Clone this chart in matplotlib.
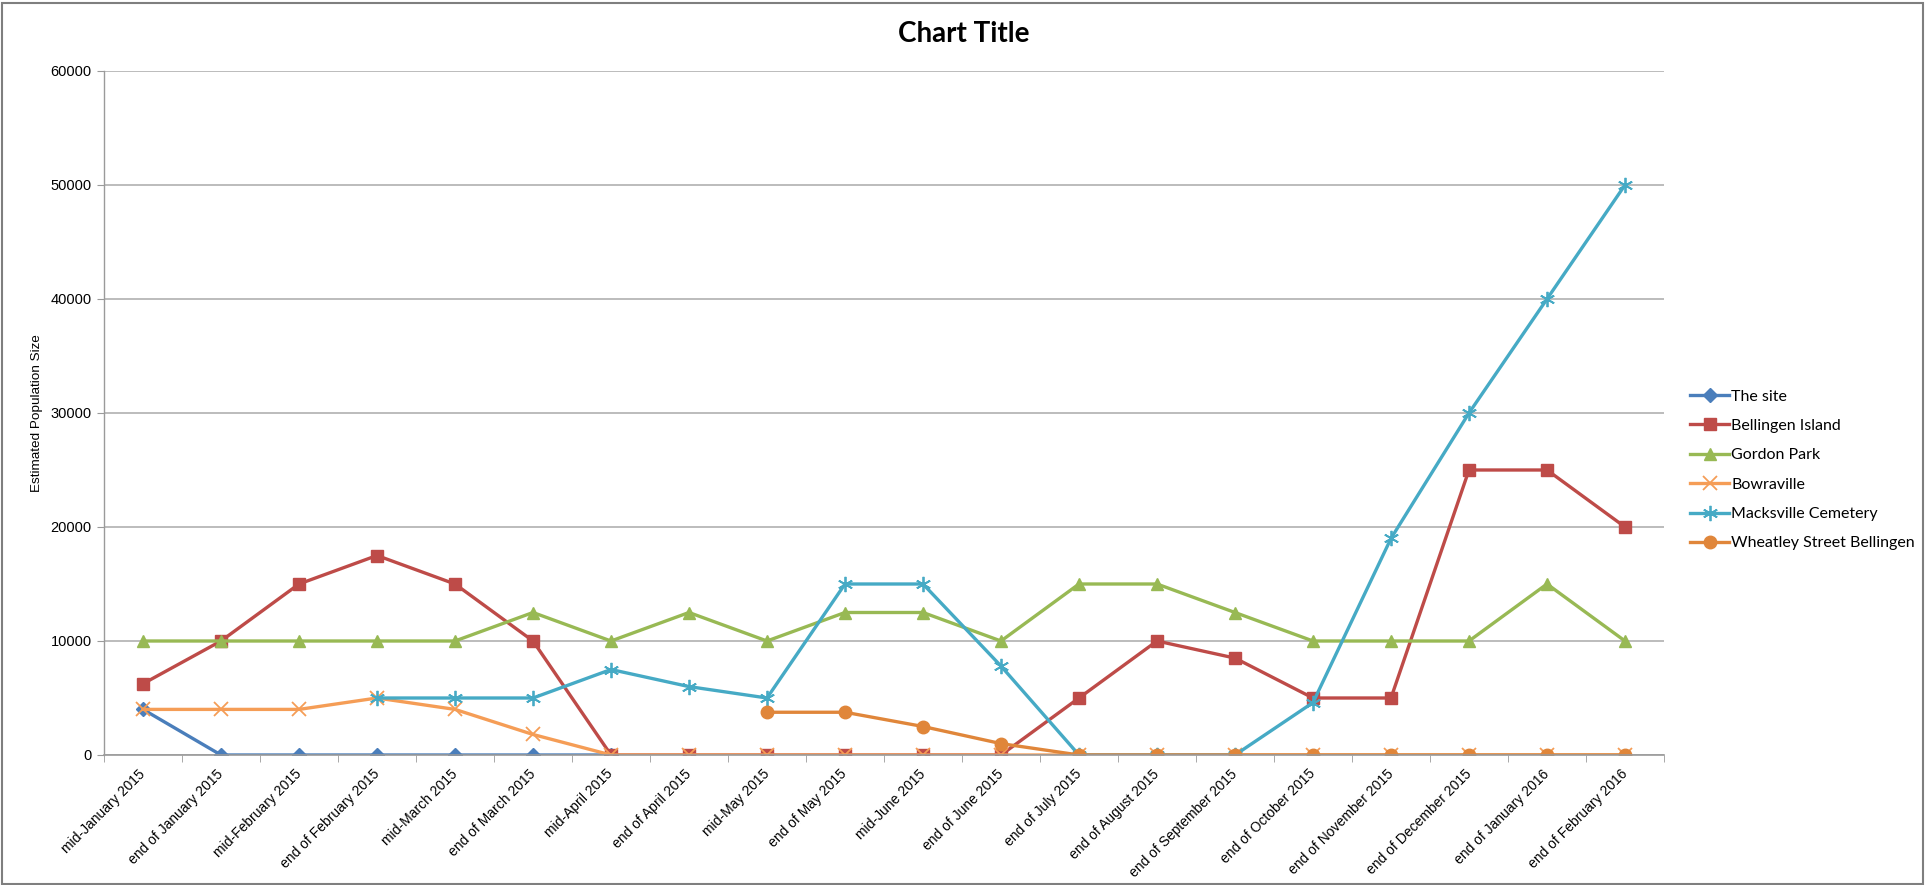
import matplotlib
matplotlib.use("Agg")
import matplotlib.pyplot as plt
from matplotlib import font_manager
from matplotlib.ticker import MultipleLocator, FixedLocator
from matplotlib.patches import Rectangle
import numpy as np

categories = ["mid-January 2015", "end of January 2015", "mid-February 2015",
              "end of February 2015", "mid-March 2015", "end of March 2015",
              "mid-April 2015", "end of April 2015", "mid-May 2015",
              "end of May 2015", "mid-June 2015", "end of June 2015",
              "end of July 2015", "end of August 2015", "end of September 2015",
              "end of October 2015", "end of November 2015", "end of December 2015",
              "end of January 2016", "end of February 2016"]

N = None
the_site = [4000, 0, 0, 0, 0, 0, 0, N, N, N, N, N, N, N, N, N, N, N, N, N]
bellingen = [6250, 10000, 15000, 17500, 15000, 10000, 0, 0, 0, 0, 0, 0,
             5000, 10000, 8500, 5000, 5000, 25000, 25000, 20000]
gordon = [10000, 10000, 10000, 10000, 10000, 12500, 10000, 12500, 10000, 12500,
          12500, 10000, 15000, 15000, 12500, 10000, 10000, 10000, 15000, 10000]
bowraville = [4000, 4000, 4000, 5000, 4000, 1800, 0, 0, 0, 0, 0, 0,
              0, 0, 0, 0, 0, 0, 0, 0]
macksville = [N, N, N, 5000, 5000, 5000, 7500, 6000, 5000, 15000, 15000, 7800,
              0, 0, 0, 4600, 19000, 30000, 40000, 50000]
wheatley = [N, N, N, N, N, N, N, N, 3750, 3750, 2500, 1000,
            0, 0, 0, 0, 0, 0, 0, 0]

series = [
    ("The site", the_site, "#4A7EBB", "D", 7, {}),
    ("Bellingen Island", bellingen, "#BE4B48", "s", 9, {}),
    ("Gordon Park", gordon, "#98B954", "^", 9, {}),
    ("Bowraville", bowraville, "#F59D56", "x", 10, {"markeredgewidth": 1.3}),
    ("Macksville Cemetery", macksville, "#46AAC5", (6, 2, 0), 11, {"markeredgewidth": 1.3}),
    ("Wheatley Street Bellingen", wheatley, "#E0863A", "o", 9, {}),
]

# axis text looks like Arial Narrow; use Liberation Sans Narrow if present
names = {f.name for f in font_manager.fontManager.ttflist}
if "Liberation Sans Narrow" in names:
    axis_font, xtick_size, ytick_size, ylab_size = "Liberation Sans Narrow", 12.2, 12.2, 11.5
else:
    axis_font, xtick_size, ytick_size, ylab_size = "Liberation Sans", 10, 10.5, 9.7

fig = plt.figure(figsize=(19.27, 8.85), dpi=100)
ax = fig.add_axes([104 / 1927, 1 - 755 / 885, 1560 / 1927, 684 / 885])

x = np.arange(len(categories))
for name, vals, col, mk, ms, extra in series:
    y = np.array([np.nan if v is None else v for v in vals], dtype=float)
    ax.plot(x, y, color=col, lw=2.4, marker=mk, markersize=ms,
            markerfacecolor=col, markeredgecolor=col, label=name, **extra)

ax.set_xlim(-0.5, len(categories) - 0.5)
ax.set_ylim(0, 60000)
ax.yaxis.set_major_locator(MultipleLocator(10000))
ax.grid(axis="y", color="#B0B0B0", lw=1.2)
ax.set_axisbelow(True)

for s in ["top", "right"]:
    ax.spines[s].set_visible(False)
ax.spines["left"].set_color("#9A9A9A")
ax.spines["bottom"].set_color("#9A9A9A")
ax.spines["left"].set_linewidth(1.0)
ax.spines["bottom"].set_linewidth(1.2)

ax.set_xticks(x)
ax.set_xticklabels(categories, rotation=45, ha="right", va="center",
                   rotation_mode="anchor", fontsize=xtick_size, family=axis_font)
ax.xaxis.set_minor_locator(FixedLocator(np.arange(-0.5, len(categories), 1)))
ax.tick_params(axis="x", which="major", length=0, pad=12)
ax.tick_params(axis="x", which="minor", length=5, color="#9A9A9A")
ax.tick_params(axis="y", length=5, color="#9A9A9A", labelsize=ytick_size, pad=4)
for lab in ax.get_yticklabels():
    lab.set_family(axis_font)

ax.set_ylabel("Estimated Population Size", fontsize=ylab_size, labelpad=5,
              family=axis_font)

fig.suptitle("Chart Title", x=0.5, y=1 - 34 / 885, va="center",
             fontsize=20, fontweight="bold", family=["Lato", "DejaVu Sans"])

leg = fig.legend(loc="center left", bbox_to_anchor=(1676 / 1927, 1 - 470 / 885),
                 frameon=False, prop={"family": ["Lato", "DejaVu Sans"], "size": 11.5},
                 handlelength=2.4, handletextpad=0.15, labelspacing=0.95)

fig.patches.append(Rectangle((0.001, 0.001), 0.997, 0.996, transform=fig.transFigure,
                             fill=False, edgecolor="#7F7F7F", lw=1.5))

fig.savefig("out.png", dpi=100)
